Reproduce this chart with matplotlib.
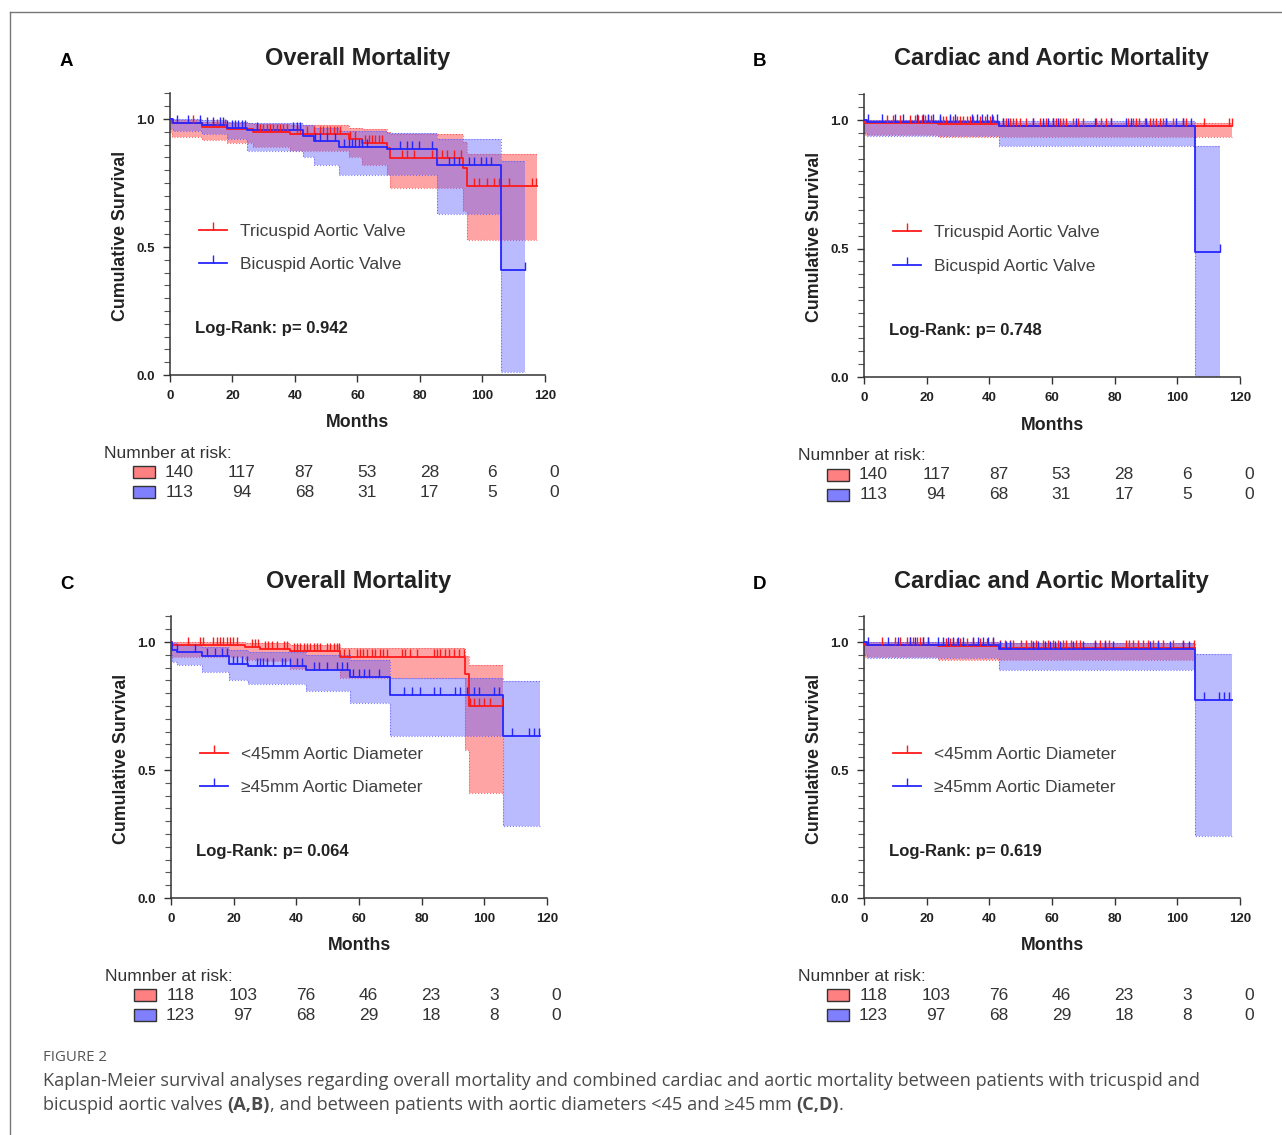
import numpy as np
import matplotlib.pyplot as plt
from matplotlib.lines import Line2D
from matplotlib.patches import Rectangle
from matplotlib.ticker import MultipleLocator
from matplotlib.transforms import blended_transform_factory

plt.rcParams['font.family'] = ['Liberation Sans', 'DejaVu Sans']

RED = '#ff1a1a'
BLUE = '#2626ff'
RED_FILL = '#ff4a4a'
BLUE_FILL = '#5c5cff'
TEXT = '#222222'

month_ticks = [0, 20, 40, 60, 80, 100, 120]

# ---------------- A: overall mortality, TAV vs BAV
a_tav_t = [0, 0.5, 10.1, 18.2, 26.7, 38.5, 57.2, 61.4, 69.4, 70.3, 93.8, 94.9]
a_tav_s = [1.0, 0.986, 0.97, 0.96, 0.95, 0.94, 0.923, 0.907, 0.887, 0.848, 0.809, 0.737]
a_tav_lo = [0.95, 0.93, 0.917, 0.905, 0.89, 0.875, 0.85, 0.82, 0.78, 0.73, 0.64, 0.527]
a_tav_hi = [1.0, 0.995, 0.99, 0.985, 0.98, 0.975, 0.965, 0.96, 0.95, 0.94, 0.91, 0.865]
a_tav_end = 117.5
a_tav_cens = [7.5, 13.9, 15, 17.6, 27.8, 28.8, 29.9, 31, 32, 33, 34.2, 35.3, 36.3, 37.4,
              40.6, 41.7, 43.8, 46, 48, 49, 50.2, 51.3, 52.4, 53.4, 54.5, 57.7, 59.3,
              62.5, 63.6, 64.6, 65.7, 66.8, 67.8, 74.3, 75.9, 78, 83.9, 85.5, 87, 88.7,
              90.8, 93, 97.2, 98.8, 101.5, 103.6, 105.2, 108.4, 115.9, 117]

a_bav_t = [0, 1.1, 10.1, 18.2, 24.6, 42.7, 46, 54, 69.4, 85.5, 105.8]
a_bav_s = [1.0, 0.984, 0.975, 0.966, 0.957, 0.933, 0.916, 0.89, 0.883, 0.822, 0.409]
a_bav_lo = [0.96, 0.955, 0.94, 0.92, 0.875, 0.85, 0.82, 0.78, 0.78, 0.63, 0.01]
a_bav_hi = [1.0, 1.0, 0.995, 0.99, 0.985, 0.975, 0.965, 0.955, 0.945, 0.92, 0.835]
a_bav_end = 113.5
a_bav_cens = [2.1, 5.9, 9.6, 11.8, 13.9, 16, 17.1, 18.2, 19.8, 20.8, 21.9, 23, 24, 27.8,
              39.5, 40.6, 41.7, 46.5, 48.1, 50.2, 52.9, 55.6, 57.2, 58.2, 59.3, 60.4,
              61.4, 63, 73.7, 75.9, 77.5, 79.6, 83.9, 89.2, 90.8, 92.4, 95.6, 97.2,
              99.4, 101, 102.6, 113.5]

# ---------------- B: cardiac and aortic mortality, TAV vs BAV
b_tav_t = [0, 0.3, 23.7, 43.1]
b_tav_s = [1.0, 0.99, 0.985, 0.978]
b_tav_lo = [0.95, 0.943, 0.932, 0.932]
b_tav_hi = [1.0, 1.0, 0.998, 0.99]
b_tav_end = 117.3
b_tav_cens = [7.2, 9.3, 11.5, 14.6, 16.2, 17.3, 18.4, 19.4, 20.5, 21.5, 24.2, 25.3, 26.3,
              27.4, 28.5, 29.5, 30.6, 31.6, 32.7, 33.8, 34.8, 36.9, 38.5, 40.1, 41.2,
              44.4, 45.4, 46.5, 47.6, 48.6, 49.7, 51.8, 53.9, 56.1, 58.2, 60.3, 61.4,
              62.4, 63.5, 64.5, 66.7, 68.3, 69.9, 74.1, 75.7, 77.3, 78.9, 84.2, 85.8,
              86.8, 87.9, 89.5, 91.1, 92.1, 93.2, 94.3, 95.3, 96.4, 98.5, 101.7, 102.8,
              108.6, 116.6, 117.3]

b_bav_t = [0, 0.8, 43.1, 105.7]
b_bav_s = [1.0, 0.991, 0.975, 0.486]
b_bav_lo = [0.95, 0.937, 0.897, 0.004]
b_bav_hi = [1.0, 1.0, 0.995, 0.9]
b_bav_end = 113.6
b_bav_cens = [1.4, 5.6, 9.9, 12.5, 16.8, 18.9, 20.5, 22.1, 24.2, 27.4, 29, 34.3, 35.9,
              37.5, 39.1, 40.7, 42.3, 44.4, 46, 53.9, 57.1, 58.7, 60.3, 61.9, 67.7,
              73.6, 78.9, 83.7, 85.2, 90, 96.4, 99.6, 101.7, 104.4, 113.6]

# ---------------- C: overall mortality, <45 vs >=45 mm
c_small_t = [0, 0.3, 23.6, 28.4, 38, 54, 93.9, 95]
c_small_s = [1.0, 0.99, 0.982, 0.974, 0.964, 0.942, 0.877, 0.75]
c_small_lo = [0.95, 0.94, 0.93, 0.925, 0.895, 0.86, 0.58, 0.41]
c_small_hi = [1.0, 1.0, 0.998, 0.995, 0.99, 0.978, 0.945, 0.91]
c_small_end = 105.9
c_small_cens = [5.5, 9.3, 10.3, 13.5, 14.6, 15.7, 16.7, 17.8, 18.8, 19.9, 20.9, 25.8,
                26.8, 27.9, 30, 31.1, 32.2, 33.8, 35.9, 37, 39.1, 40.1, 41.2, 42.3,
                43.3, 44.4, 45.5, 46.5, 47.6, 49.7, 50.8, 51.9, 52.9, 53.5, 55.1, 56.7,
                59.3, 60.4, 61.4, 62.5, 64.1, 65.2, 66.8, 67.8, 68.9, 73.7, 74.8, 76.4,
                78.5, 83.8, 84.9, 85.9, 87.5, 88.6, 90.2, 91.8, 93.4, 95.5, 96.6, 98.2,
                99.8, 101.9, 105.6]

c_large_t = [0, 0.2, 1.8, 9.9, 18.4, 24.7, 43, 57.2, 69.8, 105.9]
c_large_s = [1.0, 0.97, 0.96, 0.944, 0.915, 0.906, 0.892, 0.862, 0.792, 0.632]
c_large_lo = [0.95, 0.92, 0.909, 0.883, 0.85, 0.835, 0.81, 0.76, 0.632, 0.283]
c_large_hi = [1.0, 0.995, 0.99, 0.98, 0.97, 0.96, 0.95, 0.93, 0.86, 0.847]
c_large_end = 117.7
c_large_cens = [1.8, 7.7, 11.4, 14.1, 16.2, 17.8, 19.9, 20.9, 22.6, 24.2, 27.4, 28.4,
                29.5, 30.6, 32.7, 35.4, 36.4, 38, 40.1, 41.7, 45.5, 47.1, 49.7, 52.9,
                54.5, 56.1, 58.2, 59.9, 61.5, 63.1, 66.3, 74.2, 76.9, 79.5, 83.8, 85.9,
                90.7, 92.3, 94.5, 96.6, 98.2, 103, 104.6, 108.8, 114.1, 115.7, 117.4]

# ---------------- D: cardiac and aortic mortality, <45 vs >=45 mm
d_small_t = [0, 0.3, 23.7, 43.1]
d_small_s = [1.0, 0.99, 0.983, 0.977]
d_small_lo = [0.95, 0.942, 0.929, 0.93]
d_small_hi = [1.0, 1.0, 1.0, 0.995]
d_small_end = 105.7
d_small_cens = [5.6, 9.9, 11.5, 13.6, 14.6, 15.7, 16.8, 17.8, 18.9, 20.5, 26.3, 27.4,
                28.5, 29.5, 30.6, 32.7, 34.8, 36.9, 39.1, 41.2, 43.3, 44.9, 46.5, 47.6,
                50.2, 51.8, 53.4, 55, 57.1, 58.7, 60.3, 61.9, 63.5, 64.5, 66.1, 67.7,
                68.8, 73.6, 75.2, 76.8, 78.3, 83.7, 84.7, 85.8, 87.4, 89, 90.6, 92.1,
                93.7, 95.3, 98.5, 101.7, 105.4]

d_large_t = [0, 0.8, 43.1, 105.7]
d_large_s = [1.0, 0.987, 0.974, 0.773]
d_large_lo = [0.95, 0.937, 0.892, 0.243]
d_large_hi = [1.0, 1.0, 0.995, 0.955]
d_large_end = 117.4
d_large_cens = [1.4, 7.7, 10.9, 14.6, 16.2, 18.9, 20.5, 23.7, 25.3, 26.9, 28.5, 30,
                31.6, 34.8, 36.4, 38, 39.6, 41.2, 43.3, 45.4, 46.5, 53.9, 55.5, 57.6,
                59.2, 60.8, 62.4, 66.7, 69.9, 73.6, 76.8, 79.4, 91.1, 93.7, 97.5, 101.7,
                103.8, 108.6, 113.4, 115, 116.6]

# numbers at risk
risk_tav = [140, 117, 87, 53, 28, 6, 0]
risk_bav = [113, 94, 68, 31, 17, 5, 0]
risk_small = [118, 103, 76, 46, 23, 3, 0]
risk_large = [123, 97, 68, 29, 18, 8, 0]

valve_labels = ['Tricuspid Aortic Valve', 'Bicuspid Aortic Valve']
diam_labels = ['<45mm Aortic Diameter', '\u226545mm Aortic Diameter']


def km_curve(ax, t, s, lo, hi, end, cens, line_c, fill_c, fill_a):
    x = np.append(t, end)
    ax.fill_between(x, np.append(lo, lo[-1]), np.append(hi, hi[-1]), step='post',
                    color=fill_c, alpha=fill_a, lw=0, zorder=1)
    ax.step(x, np.append(lo, lo[-1]), where='post', color=fill_c, lw=0.8, ls=':', alpha=0.8, zorder=1)
    ax.step(x, np.append(hi, hi[-1]), where='post', color=fill_c, lw=0.8, ls=':', alpha=0.8, zorder=1)
    ax.step(x, np.append(s, s[-1]), where='post', color=line_c, lw=1.3, zorder=3)
    s_arr = np.asarray(s)
    idx = np.searchsorted(t, cens, side='right') - 1
    ax.plot(cens, s_arr[idx], ls='none', marker=2, ms=5.5, mew=1.0, color=line_c, zorder=4)


def panel(ax, letter, title, groups, labels, pval, risks):
    for g, c, fc, fa in zip(groups, [RED, BLUE], [RED_FILL, BLUE_FILL], [0.5, 0.42]):
        km_curve(ax, *g, c, fc, fa)

    ax.set_xlim(0, 120)
    ax.set_ylim(0, 1.1)
    ax.set_xticks(month_ticks)
    ax.set_yticks([0, 0.5, 1.0])
    ax.set_yticklabels(['0.0', '0.5', '1.0'])
    ax.yaxis.set_minor_locator(MultipleLocator(0.05))
    for sp in ['top', 'right']:
        ax.spines[sp].set_visible(False)
    for sp in ['left', 'bottom']:
        ax.spines[sp].set_linewidth(1.1)
        ax.spines[sp].set_color('#333333')
    ax.tick_params(which='major', length=5, width=1.0, color='#333333',
                   labelsize=9.5, pad=6, labelcolor=TEXT)
    ax.tick_params(which='minor', length=4, width=0.8, color='#555555')
    for lab in ax.get_xticklabels() + ax.get_yticklabels():
        lab.set_fontweight('bold')

    ax.text(0.499, 1.125, title, transform=ax.transAxes, ha='center', va='center',
            fontsize=17, fontweight='bold', color=TEXT)
    ax.text(-0.277, 1.115, letter, transform=ax.transAxes, ha='center', va='center',
            fontsize=13.5, fontweight='bold', color='black')
    ax.text(-0.131, 0.494, 'Cumulative Survival', transform=ax.transAxes, rotation=90,
            ha='center', va='center', fontsize=12.8, fontweight='bold', color=TEXT)
    ax.text(0.5, -0.17, 'Months', transform=ax.transAxes, ha='center', va='center',
            fontsize=12.8, fontweight='bold', color=TEXT)
    ax.text(0.067, 0.166, 'Log-Rank: p= ' + pval, transform=ax.transAxes, ha='left',
            va='center', fontsize=12, fontweight='bold', color=TEXT)

    handles = [Line2D([], [], color=RED, lw=1.3, marker=2, ms=6, mew=1.0),
               Line2D([], [], color=BLUE, lw=1.3, marker=2, ms=6, mew=1.0)]
    leg = ax.legend(handles, labels, loc='center left', bbox_to_anchor=(0.078, 0.451),
                    frameon=False, fontsize=12.5, handlelength=1.6, handletextpad=0.75,
                    labelspacing=1.05, borderpad=0, borderaxespad=0, numpoints=1)
    for txt in leg.get_texts():
        txt.set_color('#404040')

    # number at risk table
    tr = blended_transform_factory(ax.transData, ax.transAxes)
    ax.text(-21.1, -0.277, 'Numnber at risk:', transform=tr, ha='left', va='center',
            fontsize=12.5, color='#333333', clip_on=False)
    for row_y, vals, fc in zip([-0.345, -0.416], risks, ['#ff8080', '#8080ff']):
        ax.add_patch(Rectangle((-11.8, row_y - 0.021), 7.0, 0.042, transform=tr,
                               facecolor=fc, edgecolor='#333333', lw=1.0, clip_on=False))
        for m, v in zip(month_ticks, vals):
            ax.text(m + 3.0, row_y, str(v), transform=tr, ha='center', va='center',
                    fontsize=12.5, color='#333333', clip_on=False)


fig = plt.figure(figsize=(12.82, 11.35), dpi=100)

ax_a = fig.add_axes([0.1326, 0.6696, 0.2925, 0.2481])
ax_b = fig.add_axes([0.6740, 0.6678, 0.2933, 0.2491])
ax_c = fig.add_axes([0.1334, 0.2088, 0.2933, 0.2481])
ax_d = fig.add_axes([0.6740, 0.2088, 0.2933, 0.2481])

panel(ax_a, 'A', 'Overall Mortality',
      [(a_tav_t, a_tav_s, a_tav_lo, a_tav_hi, a_tav_end, a_tav_cens),
       (a_bav_t, a_bav_s, a_bav_lo, a_bav_hi, a_bav_end, a_bav_cens)],
      valve_labels, '0.942', [risk_tav, risk_bav])
panel(ax_b, 'B', 'Cardiac and Aortic Mortality',
      [(b_tav_t, b_tav_s, b_tav_lo, b_tav_hi, b_tav_end, b_tav_cens),
       (b_bav_t, b_bav_s, b_bav_lo, b_bav_hi, b_bav_end, b_bav_cens)],
      valve_labels, '0.748', [risk_tav, risk_bav])
panel(ax_c, 'C', 'Overall Mortality',
      [(c_small_t, c_small_s, c_small_lo, c_small_hi, c_small_end, c_small_cens),
       (c_large_t, c_large_s, c_large_lo, c_large_hi, c_large_end, c_large_cens)],
      diam_labels, '0.064', [risk_small, risk_large])
panel(ax_d, 'D', 'Cardiac and Aortic Mortality',
      [(d_small_t, d_small_s, d_small_lo, d_small_hi, d_small_end, d_small_cens),
       (d_large_t, d_large_s, d_large_lo, d_large_hi, d_large_end, d_large_cens)],
      diam_labels, '0.619', [risk_small, risk_large])

# frame around the figure (top and left edges)
fig.add_artist(Line2D([0.0078, 1.0], [0.9894, 0.9894], transform=fig.transFigure,
                      color='#777777', lw=1.0))
fig.add_artist(Line2D([0.0078, 0.0078], [0.0, 0.9894], transform=fig.transFigure,
                      color='#777777', lw=1.0))

# caption
cap_font = ['Open Sans', 'DejaVu Sans']
cap_col = '#4a4a4a'
fig.text(0.0335, 0.0687, 'FIGURE 2', family=cap_font, fontsize=10.8, color='#555555',
         ha='left', va='center')
fig.text(0.0335, 0.0476, 'Kaplan-Meier survival analyses regarding overall mortality and '
         'combined cardiac and aortic mortality between patients with tricuspid and',
         family=cap_font, fontsize=13.1, color=cap_col, ha='left', va='center')
pieces = [('bicuspid aortic valves ', 'normal'), ('(A,B)', 'bold'),
          (', and between patients with aortic diameters <45 and \u226545\u2009mm ', 'normal'),
          ('(C,D)', 'bold'), ('.', 'normal')]
prev = fig.text(0.0335, 0.0264, pieces[0][0], family=cap_font, fontsize=13.1,
                color=cap_col, ha='left', va='center')
for txt, wt in pieces[1:]:
    prev = fig.add_artist(plt.Annotation(txt, xy=(1, 0.5), xycoords=prev, ha='left',
                                         va='center', family=cap_font, fontsize=13.1,
                                         fontweight=wt, color=cap_col,
                                         annotation_clip=False))

fig.savefig('out.png', dpi=100)
